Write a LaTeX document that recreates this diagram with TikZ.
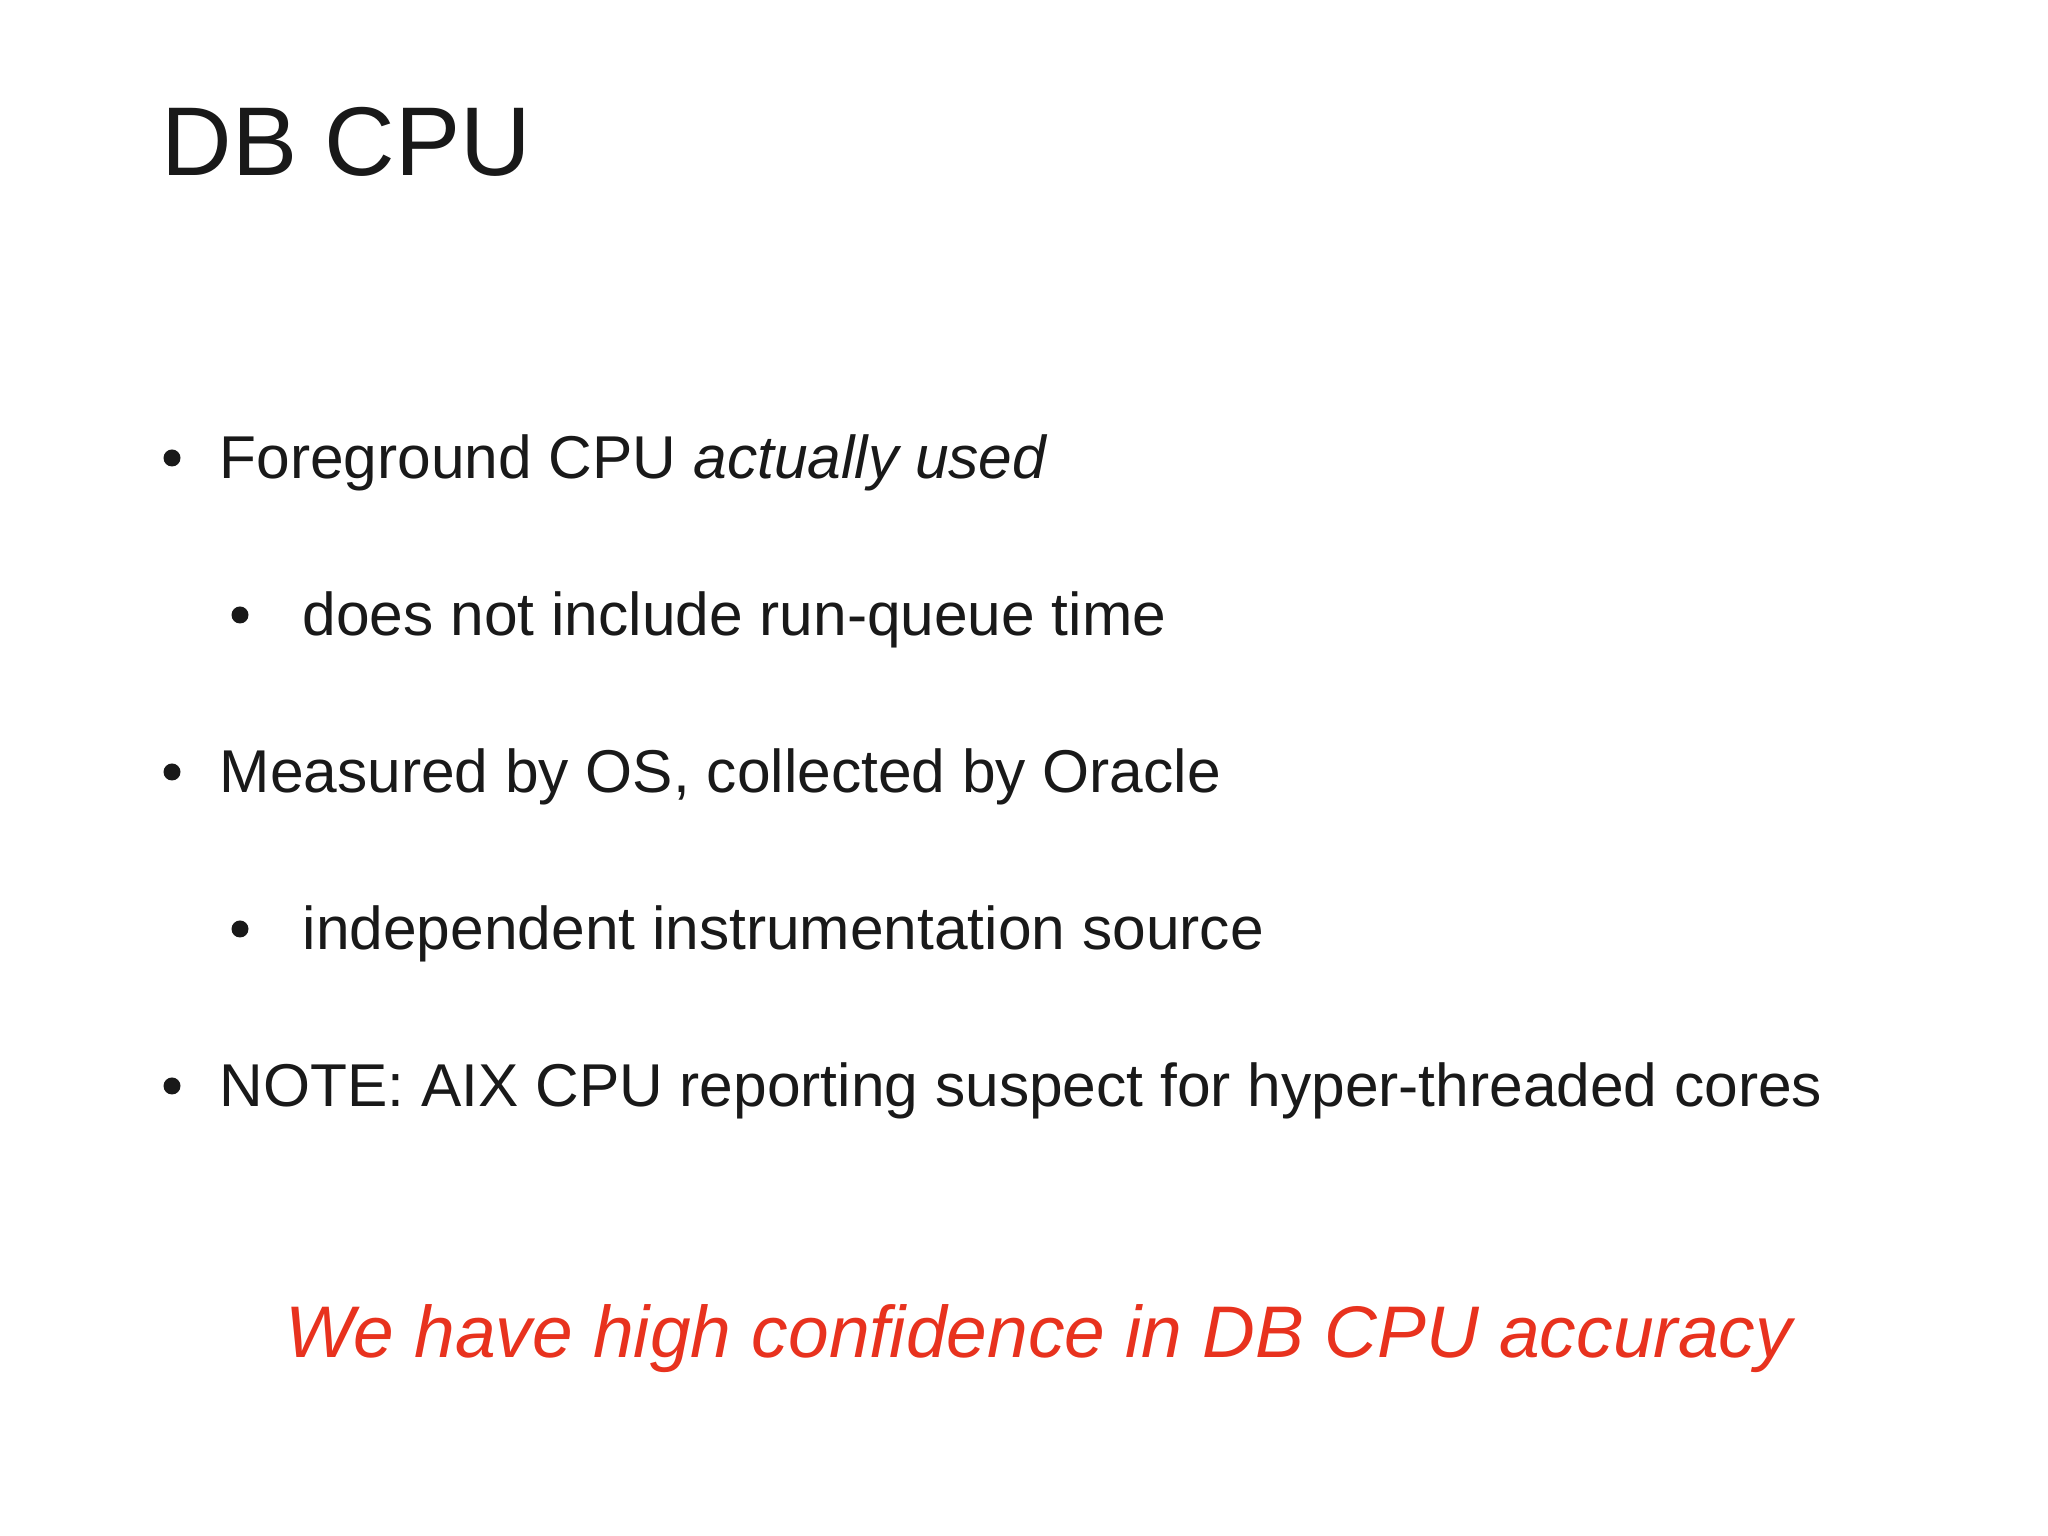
\documentclass[tikz,border=0pt]{standalone}
\usepackage{fontspec}
\setmainfont{Liberation Sans}
\definecolor{accent}{HTML}{E8321E}
\begin{document}
\begin{tikzpicture}[x=1cm,y=1cm,
  txt/.style={anchor=base west,inner sep=0pt,font=\fontsize{17.2}{20}\selectfont,text=black!90},
  dot/.style={circle,fill=black!90,inner sep=0pt,minimum size=0.17cm}]
\useasboundingbox[fill=white] (0,0) rectangle (20.48,15.36);
\node[anchor=base west,inner sep=0pt,font=\fontsize{27.8}{32}\selectfont,text=black!90] (title) at (1.61,13.60) {DB CPU};
\node[txt] (b1) at (2.19,10.57) {Foreground CPU \textit{actually used}};
\node[dot] (d1) at (1.72,10.78) {};
\node[txt] (s1) at (3.02,9.00) {does not include run-queue time};
\node[dot] (d2) at (2.40,9.21) {};
\node[txt] (b2) at (2.19,7.43) {Measured by OS, collected by Oracle};
\node[dot] (d3) at (1.72,7.64) {};
\node[txt] (s2) at (3.02,5.86) {independent instrumentation source};
\node[dot] (d4) at (2.40,6.07) {};
\node[txt] (b3) at (2.19,4.29) {NOTE: AIX CPU reporting suspect for hyper-threaded cores};
\node[dot] (d5) at (1.72,4.50) {};
\node[anchor=base,inner sep=0pt,font=\fontsize{20.8}{24}\selectfont\itshape,text=accent] (concl) at (10.39,1.78) {We have high confidence in DB CPU accuracy};
\end{tikzpicture}
\end{document}
